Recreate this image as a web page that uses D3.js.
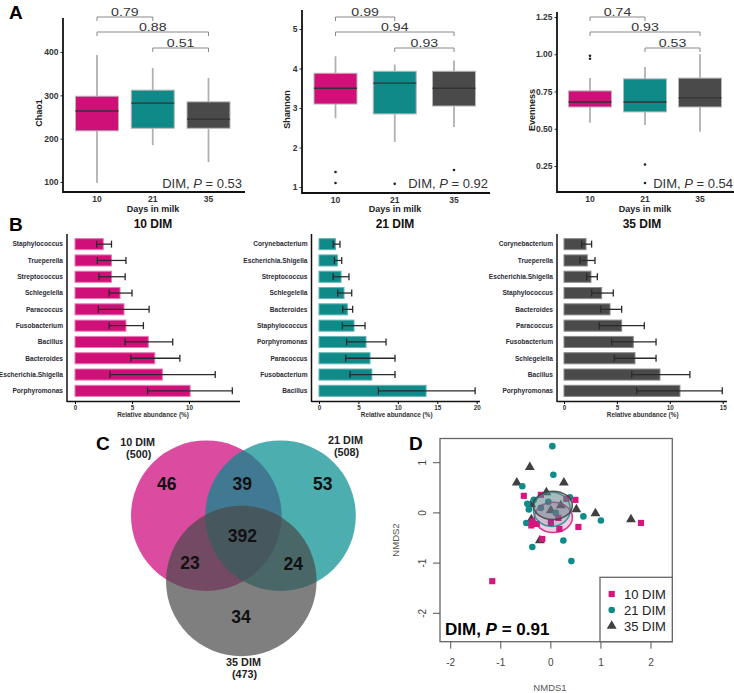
<!DOCTYPE html>
<html><head><meta charset="utf-8">
<script src="https://cdn.jsdelivr.net/npm/d3@7"></script>
<style>body{margin:0;background:#fff} svg{display:block;font-family:Arial,"Liberation Sans",sans-serif}</style>
</head><body><svg id="fig" width="734" height="693"></svg>
<script>
// ---------- DATA ----------
const groups = ["10", "21", "35"];
// boxplot stats: [lower whisker, Q1, median, Q3, upper whisker]
const chao1 = [[98, 218, 264, 298, 393], [185, 224, 282, 312, 363], [146, 224, 245, 285, 340]];
const chao1Out = [[], [], []];
const shannon = [[2.74, 3.1, 3.5, 3.88, 4.31], [2.14, 2.85, 3.63, 3.93, 4.1], [2.52, 3.05, 3.5, 3.93, 4.2]];
const shannonOut = [[1.38, 1.1], [1.08], [1.43]];
const evenness = [[0.54, 0.646, 0.68, 0.754, 0.84], [0.525, 0.613, 0.68, 0.835, 0.915], [0.48, 0.646, 0.707, 0.84, 1.0]];
const evennessOut = [[0.99, 0.97], [0.26, 0.136], []];
const chao1P = ["0.79", "0.88", "0.51"];
const shannonP = ["0.99", "0.94", "0.93"];
const evennessP = ["0.74", "0.93", "0.53"];
const kruskalP = ["0.53", "0.92", "0.54"];
const chao1Ticks = [100, 200, 300, 400];
const shannonTicks = [1, 2, 3, 4, 5];
const evennessTicks = [0.25, 0.5, 0.75, 1.0, 1.25];

// Panel B: relative abundance (%) mean with error range
const names10 = ["Staphylococcus", "Trueperella", "Streptococcus", "Schlegelella", "Paracoccus", "Fusobacterium", "Bacillus", "Bacteroides", "Escherichia.Shigella", "Porphyromonas"];
const mean10 = [2.48, 3.2, 3.2, 3.95, 4.3, 4.47, 6.43, 7.0, 7.66, 10.1];
const lo10 = [1.9, 1.96, 2.1, 3.0, 2.05, 3.0, 4.39, 4.9, 3.07, 6.37];
const hi10 = [3.2, 4.47, 4.4, 5.0, 6.5, 6.0, 8.57, 9.2, 12.3, 13.8];
const names21 = ["Corynebacterium", "Escherichia.Shigella", "Streptococcus", "Schlegelella", "Bacteroides", "Staphylococcus", "Porphyromonas", "Paracoccus", "Fusobacterium", "Bacillus"];
const mean21 = [2.1, 2.33, 2.8, 3.17, 3.6, 4.44, 5.96, 6.47, 6.7, 13.58];
const lo21 = [1.8, 1.95, 1.8, 2.37, 3.0, 2.96, 3.5, 3.39, 3.93, 7.53];
const hi21 = [2.66, 2.88, 3.8, 4.15, 4.27, 5.84, 8.5, 9.64, 9.64, 19.8];
const names35 = ["Corynebacterium", "Trueperella", "Escherichia.Shigella", "Staphylococcus", "Bacteroides", "Paracoccus", "Fusobacterium", "Schlegelella", "Bacillus", "Porphyromonas"];
const mean35 = [2.08, 2.2, 2.55, 3.56, 4.35, 5.45, 6.55, 6.71, 9.07, 10.96];
const lo35 = [1.67, 1.51, 2.14, 2.61, 3.47, 3.34, 4.5, 4.75, 6.4, 6.87];
const hi35 = [2.61, 2.93, 3.15, 4.66, 5.45, 7.59, 8.7, 8.7, 11.9, 14.96];
const ticks10 = [0, 5, 10];
const ticks21 = [0, 5, 10, 15, 20];
const ticks35 = [0, 5, 10, 15];

// Panel C: Venn
const vennSets = ["10 DIM", "21 DIM", "35 DIM"];
const vennTotals = [500, 508, 473];
const vennRegions = ["10", "21", "35", "10&21", "10&35", "21&35", "all"];
const vennCounts = [46, 53, 34, 39, 23, 24, 392];

// Panel D: NMDS
const nmds10X = [-0.54, 0.49, 0.31, 0.55, 1.8, -0.17, -1.17, -0.39, -0.2, 0.17, -0.37, -0.28, 0.0, 0.15];
const nmds10Y = [0.34, 0.26, 0.28, -0.28, -0.2, -0.52, -1.36, -0.25, 0.36, -0.32, -0.17, -0.22, -0.2, -0.1];
const nmds21X = [0.03, 0.05, -0.57, 0.38, -0.47, -0.34, -0.44, 0.65, 1.0, -0.49, 0.25, -0.37, 0.41, -0.2, 0.1, -0.05];
const nmds21Y = [1.33, 0.76, 0.53, 0.31, 0.18, 0.26, 0.07, -0.07, -0.15, -0.2, -0.55, -0.68, -0.96, 0.1, 0.0, 0.22];
const nmds35X = [-0.42, -0.68, 0.26, -0.09, 0.51, 0.89, 1.6, -0.22, -0.39, -0.39, 0.0, 0.2];
const nmds35Y = [0.91, 0.6, 0.6, 0.41, 0.07, -0.01, -0.13, -0.55, 0.17, -0.13, 0.05, 0.15];
const ellCx = [0.05, 0.02, 0.04];
const ellCy = [-0.09, 0.07, 0.15];
const ellRx = [0.38, 0.37, 0.39];
const ellRy = [0.3, 0.34, 0.28];
const nmdsP = "0.91";
const nmdsXTicks = [-2, -1, 0, 1, 2];
const nmdsYTicks = [-2, -1, 0, 1];

// ---------- STYLE ----------
const colors = ["#cf1078", "#0f8a88", "#4a4a4a"];
const barStroke = ["#e77ab3", "#62b7b4", "#8a8a8a"];
const svg = d3.select("#fig");

function panelLabel(t, x, y) {
  svg.append("text").attr("x", x).attr("y", y).attr("font-size", 19).attr("font-weight", "bold").attr("fill", "#000").text(t);
}

// ---------- PANEL A ----------
function boxPanel(cfg) {
  const g = svg.append("g");
  const y = d3.scaleLinear().domain([cfg.ticks[0], cfg.ticks[cfg.ticks.length - 1]]).range(cfg.yRange);
  const x = d3.scalePoint().domain(groups).range(cfg.xRange);
  const ya = g.append("g").attr("transform", `translate(${cfg.axisX},0)`)
    .call(d3.axisLeft(y).tickValues(cfg.ticks).tickSize(2.5).tickPadding(2).tickFormat(cfg.fmt));
  ya.select(".domain").remove();
  ya.selectAll("text").attr("font-size", 8.5).attr("font-weight", "bold").attr("fill", "#333").attr("font-family", "Arial");
  ya.selectAll("line").attr("stroke", "#333");
  g.append("line").attr("x1", cfg.axisX).attr("x2", cfg.axisX).attr("y1", cfg.axisTop).attr("y2", cfg.axisBottom + 1)
    .attr("stroke", "#111").attr("stroke-width", 1.8);
  g.append("line").attr("x1", cfg.axisX).attr("x2", cfg.xEnd).attr("y1", cfg.axisBottom).attr("y2", cfg.axisBottom)
    .attr("stroke", "#111").attr("stroke-width", 1.8);
  g.append("text").attr("transform", `translate(${cfg.titleX},${(cfg.axisTop + cfg.axisBottom) / 2 + 8}) rotate(-90)`)
    .attr("text-anchor", "middle").attr("font-size", 9).attr("font-weight", "bold").attr("fill", "#222").text(cfg.title);
  groups.forEach(gr => {
    g.append("text").attr("x", x(gr)).attr("y", cfg.axisBottom + 10).attr("text-anchor", "middle")
      .attr("font-size", 8.5).attr("font-weight", "bold").attr("fill", "#333").text(gr);
  });
  g.append("text").attr("x", cfg.xlabX).attr("y", 212).attr("text-anchor", "middle")
    .attr("font-size", 9).attr("font-weight", "bold").attr("fill", "#222").text("Days in milk");
  const w = 43;
  cfg.data.forEach((s, i) => {
    const cx = x(groups[i]);
    g.append("line").attr("x1", cx).attr("x2", cx).attr("y1", y(s[0])).attr("y2", y(s[1])).attr("stroke", "#b0b0b0").attr("stroke-width", 1.8);
    g.append("line").attr("x1", cx).attr("x2", cx).attr("y1", y(s[3])).attr("y2", y(s[4])).attr("stroke", "#b0b0b0").attr("stroke-width", 1.8);
    g.append("rect").attr("x", cx - w / 2).attr("y", y(s[3])).attr("width", w).attr("height", y(s[1]) - y(s[3]))
      .attr("fill", colors[i]).attr("stroke", "#b8b8b8").attr("stroke-width", 1);
    g.append("line").attr("x1", cx - w / 2).attr("x2", cx + w / 2).attr("y1", y(s[2])).attr("y2", y(s[2]))
      .attr("stroke", "#333").attr("stroke-width", 1.4);
    cfg.out[i].forEach(v => {
      g.append("circle").attr("cx", cx).attr("cy", y(v)).attr("r", 1.3).attr("fill", "#222");
    });
  });
  const pairs = [[0, 1], [0, 2], [1, 2]];
  const by = [17, 32, 48];
  pairs.forEach((p, k) => {
    const x1 = x(groups[p[0]]), x2 = x(groups[p[1]]);
    g.append("path").attr("d", `M${x1},${by[k] + 4}V${by[k]}H${x2}V${by[k] + 4}`)
      .attr("fill", "none").attr("stroke", "#888").attr("stroke-width", 1);
    g.append("text").attr("transform", `translate(${(x1 + x2) / 2},${by[k] - 1}) scale(1.35,1)`)
      .attr("text-anchor", "middle").attr("font-size", 10.5).attr("fill", "#333").text(cfg.p[k]);
  });
  const t = g.append("text").attr("x", cfg.kwX).attr("y", 188).attr("text-anchor", "end").attr("font-size", 13).attr("fill", "#333");
  t.append("tspan").text("DIM, ");
  t.append("tspan").attr("font-style", "italic").text("P");
  t.append("tspan").text(" = " + cfg.kw);
}

boxPanel({ data: chao1, out: chao1Out, p: chao1P, kw: kruskalP[0], title: "Chao1", ticks: chao1Ticks, fmt: d3.format("d"),
  yRange: [182, 52], axisX: 63, axisTop: 18, axisBottom: 192, xEnd: 245, xRange: [97, 208.5], titleX: 42, xlabX: 153, kwX: 242 });
boxPanel({ data: shannon, out: shannonOut, p: shannonP, kw: kruskalP[1], title: "Shannon", ticks: shannonTicks, fmt: d3.format("d"),
  yRange: [187, 29], axisX: 302, axisTop: 10, axisBottom: 193, xEnd: 490, xRange: [335.5, 454], titleX: 290, xlabX: 395, kwX: 488 });
boxPanel({ data: evenness, out: evennessOut, p: evennessP, kw: kruskalP[2], title: "Evenness", ticks: evennessTicks, fmt: d3.format(".2f"),
  yRange: [166, 17], axisX: 557, axisTop: 12, axisBottom: 192, xEnd: 734, xRange: [590, 700], titleX: 535, xlabX: 645, kwX: 733 });
panelLabel("A", 9, 19);

// ---------- PANEL B ----------
function barPanel(cfg) {
  const g = svg.append("g");
  const y = d3.scaleBand().domain(cfg.names).range([236, 399]).paddingInner(0.32).paddingOuter(0.16);
  const x = d3.scaleLinear().domain([0, cfg.ticks[cfg.ticks.length - 1]]).range([cfg.x0, cfg.xLast]);
  g.append("text").attr("x", cfg.cx).attr("y", 228).attr("text-anchor", "middle").attr("font-size", 12).attr("font-weight", "bold").attr("fill", "#111").text(cfg.title);
  cfg.names.forEach((n, i) => {
    const yy = y(n), h = y.bandwidth(), cy = yy + h / 2;
    g.append("rect").attr("x", x(0)).attr("y", yy).attr("width", x(cfg.mean[i]) - x(0)).attr("height", h)
      .attr("fill", colors[cfg.c]).attr("stroke", barStroke[cfg.c]).attr("stroke-width", 1);
    g.append("line").attr("x1", x(cfg.lo[i])).attr("x2", x(cfg.hi[i])).attr("y1", cy).attr("y2", cy).attr("stroke", "#2a2a2a").attr("stroke-width", 1.3);
    [cfg.lo[i], cfg.hi[i]].forEach(v => {
      g.append("line").attr("x1", x(v)).attr("x2", x(v)).attr("y1", cy - 3.5).attr("y2", cy + 3.5).attr("stroke", "#2a2a2a").attr("stroke-width", 1.3);
    });
    g.append("text").attr("x", cfg.axisX - 4).attr("y", cy).attr("dy", "0.35em").attr("text-anchor", "end")
      .attr("font-size", 6.6).attr("font-weight", "bold").attr("fill", "#2b2b35").text(n);
  });
  g.append("line").attr("x1", cfg.axisX).attr("x2", cfg.axisX).attr("y1", 234).attr("y2", 402).attr("stroke", "#111").attr("stroke-width", 1.5);
  g.append("line").attr("x1", cfg.axisX).attr("x2", cfg.axisEnd).attr("y1", 401.5).attr("y2", 401.5).attr("stroke", "#111").attr("stroke-width", 1.5);
  const xa = g.append("g").attr("transform", "translate(0,402)")
    .call(d3.axisBottom(x).tickValues(cfg.ticks).tickSize(2).tickPadding(1.5));
  xa.select(".domain").remove();
  xa.selectAll("text").attr("font-size", 6.3).attr("font-weight", "bold").attr("fill", "#333").attr("font-family", "Arial");
  g.append("text").attr("x", cfg.labX).attr("y", 417).attr("text-anchor", "middle").attr("font-size", 6.4).attr("font-weight", "bold").attr("fill", "#333").text("Relative abundance (%)");
}
barPanel({ names: names10, mean: mean10, lo: lo10, hi: hi10, ticks: ticks10, c: 0, title: "10 DIM", cx: 153,
  x0: 75, xLast: 189, axisX: 67, axisEnd: 240, labX: 153 });
barPanel({ names: names21, mean: mean21, lo: lo21, hi: hi21, ticks: ticks21, c: 1, title: "21 DIM", cx: 395,
  x0: 319, xLast: 476.7, axisX: 311.5, axisEnd: 480, labX: 396.7 });
barPanel({ names: names35, mean: mean35, lo: lo35, hi: hi35, ticks: ticks35, c: 2, title: "35 DIM", cx: 642,
  x0: 564, xLast: 722.7, axisX: 557, axisEnd: 727, labX: 642.7 });
panelLabel("B", 9, 231);

// ---------- PANEL C ----------
(function () {
  const g = svg.append("g");
  const circ = [[206.3, 515.7], [280.5, 515.7], [241.3, 581]];
  const r = 75.3;
  const vennFill = ["#cc0077", "#008b8b", "#494949"];
  circ.forEach((c, i) => {
    g.append("circle").attr("cx", c[0]).attr("cy", c[1]).attr("r", r).attr("fill", vennFill[i]).attr("fill-opacity", 0.7);
  });
  const pos = { "10": [166.7, 483.3], "21": [322.7, 483.3], "35": [241, 616.7], "10&21": [242.3, 483.3], "10&35": [190, 562.7], "21&35": [293.3, 564], "all": [242.3, 536] };
  vennRegions.forEach((rg, i) => {
    g.append("text").attr("x", pos[rg][0]).attr("y", pos[rg][1]).attr("dy", "0.36em").attr("text-anchor", "middle")
      .attr("font-size", 17.5).attr("font-weight", "bold").attr("fill", "#111").text(vennCounts[i]);
  });
  const lab = [[137.7, 446], [345.5, 444], [243.5, 665.5]];
  vennSets.forEach((s, i) => {
    g.append("text").attr("x", lab[i][0]).attr("y", lab[i][1]).attr("text-anchor", "middle").attr("font-size", 10.8).attr("font-weight", "bold").attr("fill", "#222").text(s);
    g.append("text").attr("x", lab[i][0] + 1).attr("y", lab[i][1] + 12).attr("text-anchor", "middle").attr("font-size", 10.8).attr("font-weight", "bold").attr("fill", "#222").text("(" + vennTotals[i] + ")");
  });
})();
panelLabel("C", 96, 450);

// ---------- PANEL D ----------
(function () {
  const g = svg.append("g");
  const x = d3.scaleLinear().domain([-2, 2]).range([450.7, 651]);
  const y = d3.scaleLinear().domain([-2, 1]).range([613.3, 462.7]);
  const L = 440, T = 438.5, R = 672.3, B = 641.7;
  g.append("rect").attr("x", L).attr("y", T).attr("width", R - L).attr("height", B - T).attr("fill", "none").attr("stroke", "#666").attr("stroke-width", 1.3);
  nmdsXTicks.forEach(v => {
    g.append("line").attr("x1", x(v)).attr("x2", x(v)).attr("y1", B).attr("y2", B + 7).attr("stroke", "#555");
    g.append("text").attr("x", x(v)).attr("y", 666).attr("text-anchor", "middle").attr("font-size", 10).attr("fill", "#444").text(v);
  });
  nmdsYTicks.forEach(v => {
    g.append("line").attr("x1", L - 7).attr("x2", L).attr("y1", y(v)).attr("y2", y(v)).attr("stroke", "#555");
    g.append("text").attr("transform", `translate(426,${y(v)}) rotate(-90)`).attr("text-anchor", "middle").attr("font-size", 10).attr("fill", "#444").text(v);
  });
  g.append("text").attr("x", 550).attr("y", 691).attr("text-anchor", "middle").attr("font-size", 9.5).attr("fill", "#555").text("NMDS1");
  g.append("text").attr("transform", `translate(399,540) rotate(-90)`).attr("text-anchor", "middle").attr("font-size", 9.5).attr("fill", "#555").text("NMDS2");

  const sets = [[nmds10X, nmds10Y], [nmds21X, nmds21Y], [nmds35X, nmds35Y]];
  const sym = [d3.symbolSquare, d3.symbolCircle, d3.symbolTriangle];
  const symSize = [38, 34, 42];
  const symCol = ["#d6167f", "#0f8b8b", "#404040"];
  function drawSym(gg, i, px, py) {
    gg.append("path").attr("d", d3.symbol().type(sym[i]).size(symSize[i])()).attr("transform", `translate(${px},${py})`).attr("fill", symCol[i]);
  }
  [2, 1, 0].forEach(i => {
    sets[i][0].forEach((vx, k) => drawSym(g, i, x(vx), y(sets[i][1][k])));
  });
  const ellFill = ["rgba(214,22,127,0.22)", "rgba(15,139,139,0.18)", "rgba(110,130,135,0.45)"];
  [0, 1, 2].forEach(i => {
    const cx = x(ellCx[i]), cy = y(ellCy[i]);
    g.append("ellipse").attr("cx", cx).attr("cy", cy).attr("rx", x(ellCx[i] + ellRx[i]) - cx).attr("ry", cy - y(ellCy[i] + ellRy[i]))
      .attr("fill", ellFill[i]).attr("stroke", symCol[i]).attr("stroke-width", 1.5).attr("stroke-opacity", 0.85);
  });
  // legend
  const lx = 600, ly = 577.3;
  g.append("rect").attr("x", lx).attr("y", ly).attr("width", R - lx).attr("height", B - ly).attr("fill", "#fff").attr("stroke", "#666").attr("stroke-width", 1.3);
  ["10 DIM", "21 DIM", "35 DIM"].forEach((t, i) => {
    const yy = 594 + i * 16;
    drawSym(g, i, 611.7, yy);
    g.append("text").attr("x", 624).attr("y", yy).attr("dy", "0.36em").attr("font-size", 13).attr("fill", "#222").text(t);
  });
  const t = g.append("text").attr("x", 445).attr("y", 635).attr("font-size", 17).attr("font-weight", "bold").attr("fill", "#000");
  t.append("tspan").text("DIM, ");
  t.append("tspan").attr("font-style", "italic").text("P");
  t.append("tspan").text(" = " + nmdsP);
})();
panelLabel("D", 409, 450);
</script></body></html>
